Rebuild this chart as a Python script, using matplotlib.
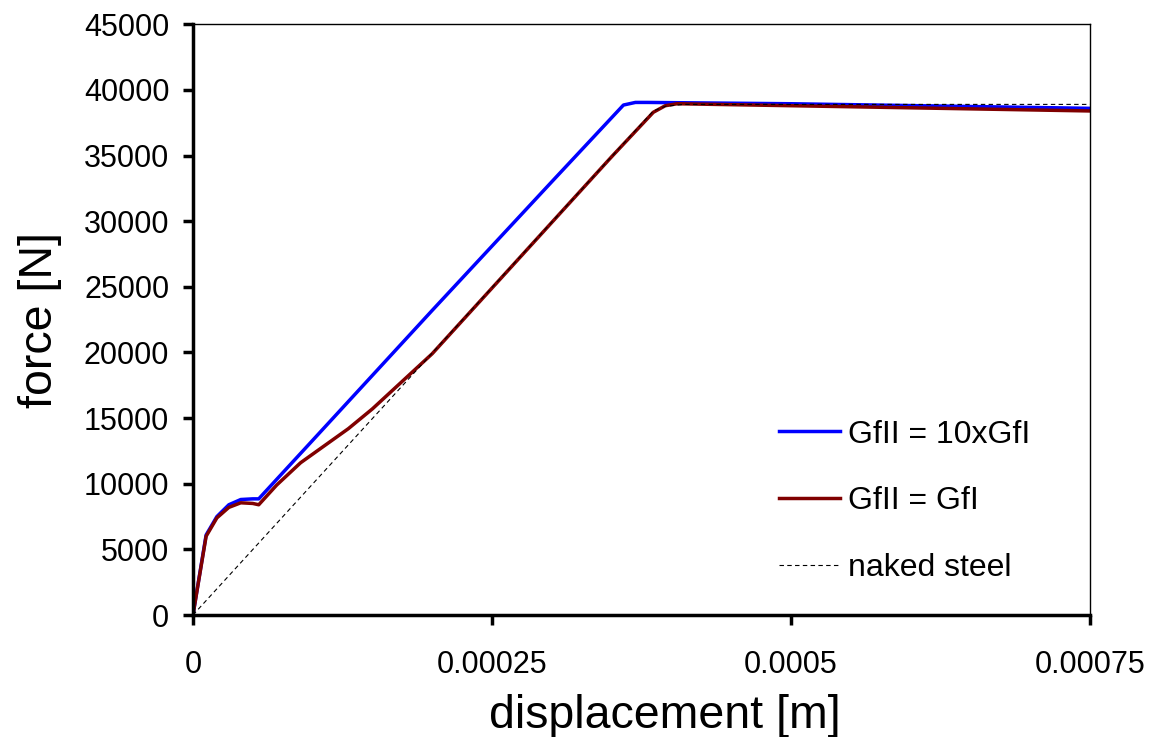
import numpy as np
import matplotlib.pyplot as plt

plt.rcParams['font.family'] = ['Liberation Sans', 'DejaVu Sans']

# GfII = 10xGfI
d_blue = [0, 1.1e-5, 2e-5, 3e-5, 4e-5, 5e-5, 5.5e-5, 1e-4, 2e-4, 3e-4, 3.6e-4, 3.7e-4,
          3.8e-4, 5e-4, 7.5e-4]
f_blue = [0, 6100, 7500, 8400, 8800, 8850, 8850, 13300, 23200, 33000, 38850, 39050,
          39050, 38950, 38600]

# GfII = GfI
d_red = [0, 1.1e-5, 2e-5, 3e-5, 4e-5, 5e-5, 5.5e-5, 7e-5, 9e-5, 1.1e-4, 1.3e-4, 1.5e-4,
         1.75e-4, 2e-4, 2.5e-4, 3e-4, 3.5e-4, 3.85e-4, 3.95e-4, 4.05e-4, 5e-4, 7.5e-4]
f_red = [0, 6000, 7400, 8200, 8550, 8500, 8400, 9900, 11600, 12900, 14200, 15700,
         17800, 19900, 24900, 29900, 34900, 38300, 38800, 38950, 38800, 38400]

# naked steel
d_steel = [0, 3.85e-4, 3.95e-4, 4.1e-4, 7.5e-4]
f_steel = [0, 38400, 38750, 38900, 38900]

fig = plt.figure(figsize=(11.52, 7.37), dpi=100)
ax = fig.add_axes([0.1675, 0.1655, 0.7785, 0.8015])

ax.plot(d_blue, f_blue, color='#0000ff', lw=2.5, label='GfII = 10xGfI')
ax.plot(d_red, f_red, color='#800000', lw=2.5, label='GfII = GfI')
ax.plot(d_steel, f_steel, color='black', lw=0.8, ls=(0, (4, 3)), label='naked steel')

ax.set_xlim(0, 0.00075)
ax.set_ylim(0, 45000)
ax.set_xticks([0, 0.00025, 0.0005, 0.00075])
ax.set_xticklabels(['0', '0.00025', '0.0005', '0.00075'])
ax.set_yticks(np.arange(0, 45001, 5000))
ax.tick_params(labelsize=22, direction='out', width=2.5, length=7)
ax.tick_params(axis='x', pad=18)
ax.tick_params(axis='y', pad=10)
for s in ax.spines.values():
    s.set_linewidth(1)
ax.spines['left'].set_linewidth(2.5)
ax.spines['bottom'].set_linewidth(2.5)

ax.set_xlabel('displacement [m]', fontsize=33.5, labelpad=10)
ax.xaxis.label.set_x(0.526)
ax.set_ylabel('force [N]', fontsize=33.5, labelpad=16)

ax.legend(loc='upper left', frameon=False, fontsize=23, labelspacing=1.15,
          handlelength=1.9, handletextpad=0.25, borderpad=0, borderaxespad=0,
          bbox_to_anchor=(0.654, 0.331))

fig.savefig('out.png', dpi=100)
